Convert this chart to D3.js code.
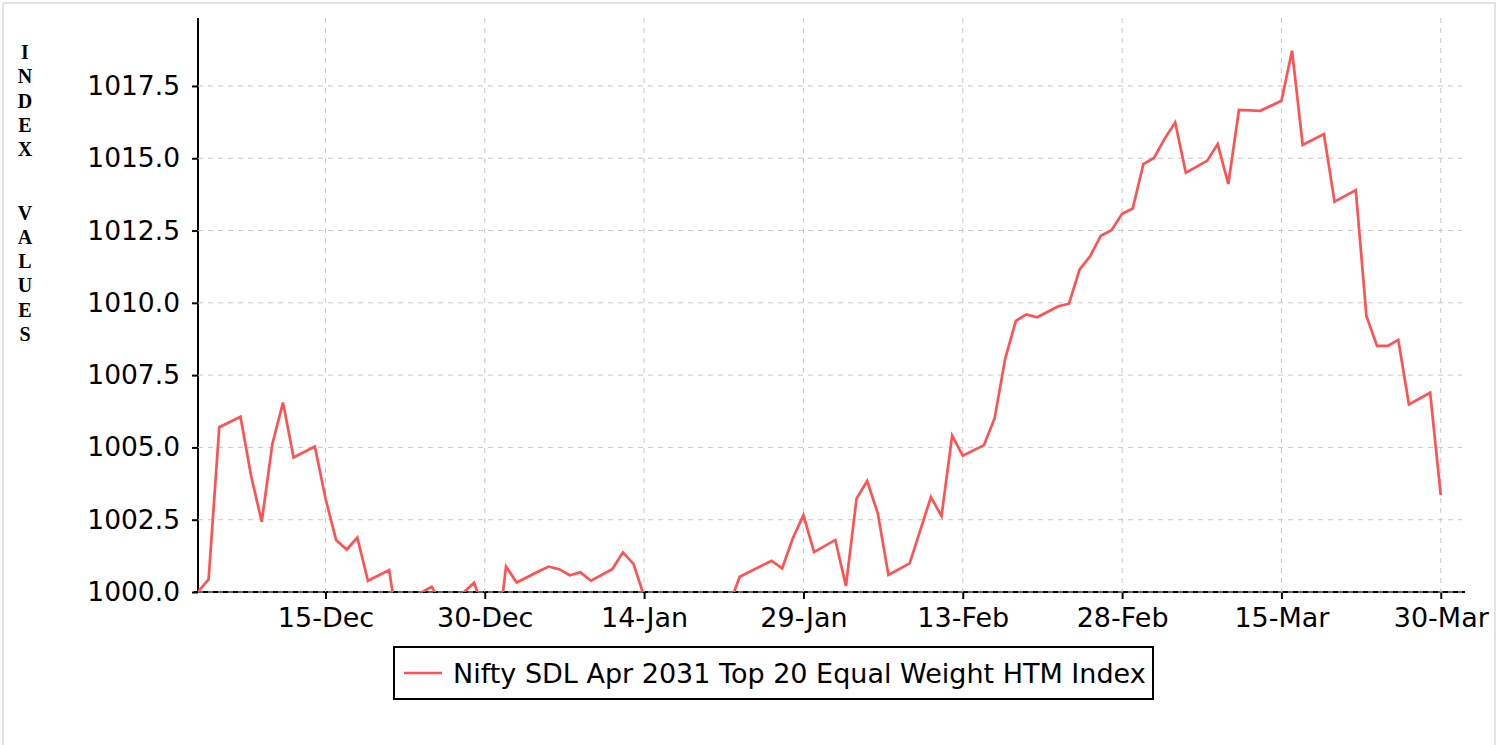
<!DOCTYPE html>
<html>
<head>
  <meta charset="UTF-8">
  <title>Nifty SDL Apr 2031 Top 20 Equal Weight HTM Index</title>
  <style>
    body {
      margin: 0;
      background: white;
      font-family: 'DejaVu Sans', sans-serif;
    }
    .frame {
      position: absolute;
      left: 2px;
      top: 2px;
      width: 1494px;
      height: 780px;
      border: 2px solid #e3e3e3;
      box-sizing: border-box;
    }
    svg {
      position: absolute;
      left: 0;
      top: 0;
    }
    .grid line {
      stroke: #c8c8c8;
      stroke-width: 1px;
      stroke-dasharray: 5, 5;
    }
    .tick text {
      font-family: 'DejaVu Sans', sans-serif;
      font-size: 27px;
      fill: black;
    }
    .yaxis .tick text {
      font-size: 26.5px;
    }
  </style>
</head>
<body>
  <div class="frame"></div>
  <svg id="chart" width="1501" height="745"></svg>

  <script src="https://d3js.org/d3.v7.min.js"></script>
  <script>
    // values
    let dates = [
      "2020-12-03", "2020-12-04", "2020-12-05", "2020-12-07", "2020-12-08", "2020-12-09", "2020-12-10", "2020-12-11", "2020-12-12",
      "2020-12-14", "2020-12-15", "2020-12-16", "2020-12-17", "2020-12-18", "2020-12-19",
      "2020-12-21", "2020-12-22", "2020-12-23", "2020-12-24", "2020-12-25", "2020-12-26",
      "2020-12-28", "2020-12-29", "2020-12-30", "2020-12-31", "2021-01-01", "2021-01-02",
      "2021-01-04", "2021-01-05", "2021-01-06", "2021-01-07", "2021-01-08", "2021-01-09",
      "2021-01-11", "2021-01-12", "2021-01-13", "2021-01-14", "2021-01-15", "2021-01-16",
      "2021-01-18", "2021-01-19", "2021-01-20", "2021-01-21", "2021-01-22", "2021-01-23",
      "2021-01-26", "2021-01-27", "2021-01-28", "2021-01-29", "2021-01-30",
      "2021-02-01", "2021-02-02", "2021-02-03", "2021-02-04", "2021-02-05", "2021-02-06",
      "2021-02-08", "2021-02-10", "2021-02-11", "2021-02-12", "2021-02-13",
      "2021-02-15", "2021-02-16", "2021-02-17", "2021-02-18", "2021-02-19", "2021-02-20",
      "2021-02-22", "2021-02-23", "2021-02-24", "2021-02-25", "2021-02-26", "2021-02-27",
      "2021-02-28", "2021-03-01", "2021-03-02", "2021-03-03", "2021-03-04", "2021-03-05", "2021-03-06",
      "2021-03-08", "2021-03-09", "2021-03-10", "2021-03-11", "2021-03-13",
      "2021-03-15", "2021-03-16", "2021-03-17", "2021-03-19", "2021-03-20",
      "2021-03-22", "2021-03-23", "2021-03-24", "2021-03-25", "2021-03-26", "2021-03-27",
      "2021-03-29", "2021-03-30"
    ];
    let values = [
      1000.01, 1000.44, 1005.70, 1006.06, 1004.01, 1002.43, 1005.12, 1006.55, 1004.65,
      1005.03, 1003.24, 1001.80, 1001.47, 1001.88, 1000.39,
      1000.76, 998.30, 998.20, 999.98, 1000.18, 999.59,
      999.98, 1000.32, 999.28, 997.79, 1000.88, 1000.33,
      1000.70, 1000.88, 1000.79, 1000.58, 1000.68, 1000.39,
      1000.79, 1001.37, 1000.97, 999.85, 999.70, 999.60,
      999.55, 999.50, 999.45, 999.50, 999.53, 1000.53,
      1001.08, 1000.82, 1001.86, 1002.66, 1001.38,
      1001.80, 1000.21, 1003.23, 1003.84, 1002.72, 1000.59,
      1000.99, 1003.28, 1002.63, 1005.41, 1004.71,
      1005.08, 1006.01, 1008.08, 1009.38, 1009.60, 1009.50,
      1009.88, 1009.97, 1011.16, 1011.62, 1012.32, 1012.51,
      1013.08, 1013.26, 1014.80, 1015.01, 1015.67, 1016.24, 1014.50,
      1014.91, 1015.49, 1014.11, 1016.67, 1016.64,
      1016.99, 1018.72, 1015.46, 1015.84, 1013.50,
      1013.90, 1009.55, 1008.51, 1008.51, 1008.72, 1006.49,
      1006.89, 1003.35
    ];
    let xTicks = ["2020-12-15", "2020-12-30", "2021-01-14", "2021-01-29", "2021-02-13", "2021-02-28", "2021-03-15", "2021-03-30"];
    let yTicks = [1000, 1002.5, 1005, 1007.5, 1010, 1012.5, 1015, 1017.5];
    let seriesName = "Nifty SDL Apr 2031 Top 20 Equal Weight HTM Index";
    let yLabelWords = ["INDEX", "VALUES"];

    let parseDate = d3.timeParse("%Y-%m-%d");
    let data = dates.map((d, i) => ({ date: parseDate(d), value: values[i] }));

    let margin = { left: 198, top: 18, right: 1462, bottom: 592 };
    let svg = d3.select("#chart");

    let x = d3.scaleTime()
      .domain([parseDate("2020-12-03"), parseDate("2021-04-01")])
      .range([margin.left, margin.right]);
    let y = d3.scaleLinear()
      .domain([1000, 1019.85])
      .range([margin.bottom, margin.top]);

    // clip so the parts under 1000 disappear like in the original
    svg.append("clipPath").attr("id", "plotClip")
      .append("rect")
      .attr("x", margin.left)
      .attr("y", margin.top)
      .attr("width", margin.right - margin.left)
      .attr("height", margin.bottom - margin.top);

    // axes
    let xAxis = svg.append("g")
      .attr("transform", "translate(0," + margin.bottom + ")")
      .call(d3.axisBottom(x)
        .tickValues(xTicks.map(parseDate))
        .tickFormat(d3.timeFormat("%d-%b"))
        .tickSize(7)
        .tickSizeOuter(0)
        .tickPadding(9));
    xAxis.select(".domain").remove();
    xAxis.selectAll(".tick line").attr("stroke", "black").attr("stroke-width", 2);
    svg.append("line")
      .attr("x1", 194).attr("x2", 1465)
      .attr("y1", margin.bottom).attr("y2", margin.bottom)
      .attr("stroke", "black").attr("stroke-width", 2);

    let yAxis = svg.append("g")
      .attr("class", "yaxis")
      .attr("transform", "translate(" + margin.left + ",0)")
      .call(d3.axisLeft(y)
        .tickValues(yTicks)
        .tickFormat(d3.format(".1f"))
        .tickSize(6)
        .tickSizeOuter(0)
        .tickPadding(12));
    yAxis.select(".domain").remove();
    yAxis.selectAll(".tick line").attr("stroke", "black").attr("stroke-width", 2);
    svg.append("line")
      .attr("x1", margin.left).attr("x2", margin.left)
      .attr("y1", margin.top).attr("y2", margin.bottom + 1)
      .attr("stroke", "black").attr("stroke-width", 2);

    // dashed grid on top of the axis lines
    let grid = svg.append("g").attr("class", "grid");
    grid.selectAll("line.h")
      .data(yTicks)
      .enter()
      .append("line")
      .attr("class", "h")
      .attr("x1", margin.left)
      .attr("x2", margin.right)
      .attr("y1", d => y(d))
      .attr("y2", d => y(d));
    grid.selectAll("line.v")
      .data(xTicks.map(parseDate))
      .enter()
      .append("line")
      .attr("class", "v")
      .attr("x1", d => x(d))
      .attr("x2", d => x(d))
      .attr("y1", margin.top)
      .attr("y2", margin.bottom);

    // the series
    let line = d3.line()
      .x(d => x(d.date))
      .y(d => y(d.value));
    svg.append("path")
      .datum(data)
      .attr("clip-path", "url(#plotClip)")
      .attr("fill", "none")
      .attr("stroke", "#ff5252")
      .attr("stroke-width", 2.7)
      .attr("stroke-linejoin", "miter")
      .attr("d", line);

    // vertical stacked y label
    let yLabel = svg.append("text")
      .attr("font-family", "'Liberation Serif', serif")
      .attr("font-weight", "bold")
      .attr("font-size", 20)
      .attr("text-anchor", "middle");
    let ly = 59;
    yLabelWords.forEach((w, wi) => {
      if (wi > 0) ly += 39;
      w.split("").forEach(ch => {
        yLabel.append("tspan").attr("x", 25).attr("y", ly).text(ch);
        ly += 24.3;
      });
    });

    // legend
    let legend = svg.append("g");
    legend.append("rect")
      .attr("x", 394).attr("y", 647)
      .attr("width", 759).attr("height", 52)
      .attr("fill", "white")
      .attr("stroke", "black")
      .attr("stroke-width", 2);
    legend.append("line")
      .attr("x1", 404).attr("x2", 442)
      .attr("y1", 673).attr("y2", 673)
      .attr("stroke", "#ff5252")
      .attr("stroke-width", 2.7);
    legend.append("text")
      .attr("x", 453).attr("y", 683)
      .attr("font-family", "'DejaVu Sans', sans-serif")
      .attr("font-size", 27)
      .text(seriesName);
  </script>
</body>
</html>
